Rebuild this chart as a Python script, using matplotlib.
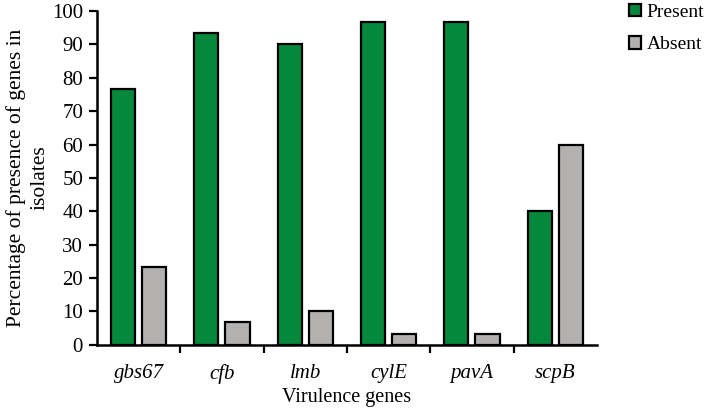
import numpy as np
import matplotlib.pyplot as plt
from matplotlib.ticker import FixedLocator

genes = ["gbs67", "cfb", "lmb", "cylE", "pavA", "scpB"]
present = [76.7, 93.3, 90.0, 96.7, 96.7, 40.0]
absent = [23.3, 6.7, 10.0, 3.3, 3.3, 60.0]

plt.rcParams['font.family'] = ['Liberation Serif', 'DejaVu Serif']

fig = plt.figure(figsize=(7.08, 4.11), dpi=100)
ax = fig.add_axes([0.137, 0.161, 0.706, 0.812])

x = np.arange(len(genes))
w = 0.29
ax.bar(x - 0.187, present, w, color="#03883c", edgecolor="black", linewidth=1.6, label="Present")
ax.bar(x + 0.187, absent, w, color="#b3b0b0", edgecolor="black", linewidth=1.6, label="Absent")

ax.set_xlim(-0.5, len(genes) - 0.5)
ax.set_ylim(0, 100)
ax.set_yticks(range(0, 101, 10))
ax.set_xticks(x)
ax.set_xticklabels(genes, style="italic", fontsize=15)
ax.xaxis.set_minor_locator(FixedLocator(np.arange(0.5, len(genes) - 0.5, 1)))
ax.tick_params(axis="x", which="major", length=0, pad=14)
ax.tick_params(axis="x", which="minor", length=6, width=1.6, direction="out")
ax.tick_params(axis="y", length=6, width=1.6, direction="out", labelsize=15, pad=4)

for s in ["top", "right"]:
    ax.spines[s].set_visible(False)
for s in ["left", "bottom"]:
    ax.spines[s].set_linewidth(1.8)

ax.set_ylabel("Percentage of presence of genes in\nisolates", fontsize=15.5, linespacing=1.3,
              labelpad=2)
ax.set_xlabel("Virulence genes", fontsize=14.5, labelpad=3)

ax.legend(loc="upper left", bbox_to_anchor=(1.065, 1.022), frameon=False, fontsize=14,
          handlelength=0.6, handleheight=0.6, handletextpad=0.3, labelspacing=0.8,
          borderaxespad=0, borderpad=0)

fig.savefig("out.png", dpi=100)
